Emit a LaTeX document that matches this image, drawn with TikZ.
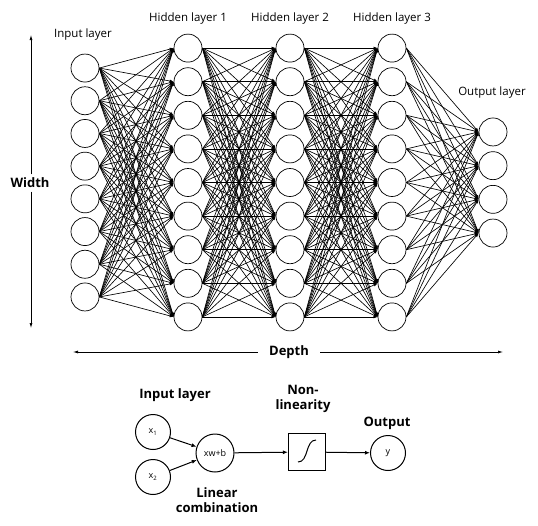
\documentclass[tikz,border=0pt]{standalone}
\usepackage{fontspec}
\setmainfont{Open Sans}
\usetikzlibrary{arrows.meta,positioning}

\begin{document}
\begin{tikzpicture}[
    x=1pt, y=1pt,
    neuron/.style={circle, draw, line width=0.7pt, minimum size=28pt, inner sep=0pt},
    unit/.style={circle, draw, line width=1pt, minimum size=35pt, inner sep=0pt, font=\fontsize{9}{10}\selectfont},
    link/.style={-{Latex[length=4pt,width=3pt]}, line width=0.65pt},
    flow/.style={-{Latex[length=5pt,width=4pt]}, line width=1pt},
    layerlabel/.style={font=\fontsize{11.5}{13}\selectfont},
    boldlabel/.style={font=\fontsize{13}{14.5}\selectfont\bfseries, align=center},
    dimarrow/.style={-{Latex[length=5pt,width=3pt]}, line width=0.7pt}
]
    \useasboundingbox (0,0) rectangle (538,-525);

    % layers of neurons
    \foreach \i in {1,...,8}
        \node[neuron] (in\i) at (85, {-182.5+(4.5-\i)*32.7}) {};
    \foreach \l/\xx in {1/188, 2/290, 3/392}
        \foreach \i in {1,...,9}
            \node[neuron] (h\l-\i) at (\xx, {-182.5+(5-\i)*33.6}) {};
    \foreach \i in {1,...,4}
        \node[neuron] (out\i) at (493, {-182.5+(2.5-\i)*33.7}) {};

    % weights
    \foreach \i in {1,...,8}
        \foreach \j in {1,...,9}
            \draw[link] (in\i.east) -- (h1-\j.west);
    \foreach \l/\m in {1/2, 2/3}
        \foreach \i in {1,...,9}
            \foreach \j in {1,...,9}
                \draw[link] (h\l-\i.east) -- (h\m-\j.west);
    \foreach \i in {1,...,9}
        \foreach \j in {1,...,4}
            \draw[link] (h3-\i.east) -- (out\j.west);

    % layer names
    \node[layerlabel] (inlabel) at (83,-35) {Input layer};
    \node[layerlabel] (h1label) at (188,-19) {Hidden layer 1};
    \node[layerlabel] (h2label) at (290,-19) {Hidden layer 2};
    \node[layerlabel] (h3label) at (392,-19) {Hidden layer 3};
    \node[layerlabel] (outlabel) at (492,-93) {Output layer};

    % width and depth
    \node[boldlabel] (width) at (30,-183) {Width};
    \coordinate (wtop) at (31,-35);
    \coordinate (wbot) at (31,-328);
    \draw[dimarrow] ([xshift=1pt]width.north) -- (wtop);
    \draw[dimarrow] ([xshift=1pt]width.south) -- (wbot);
    \node[boldlabel] (depth) at (289,-352) {Depth};
    \coordinate (dleft) at (73,-352);
    \coordinate (dright) at (503,-352);
    \draw[dimarrow] ([xshift=-8pt]depth.west) -- (dleft);
    \draw[dimarrow] ([xshift=8pt]depth.east) -- (dright);

    % single neuron
    \node[unit] (x1) at (153,-432) {x\textsubscript{1}};
    \node[unit] (x2) at (153,-477) {x\textsubscript{2}};
    \node[unit, minimum size=38pt] (lin) at (215,-453) {xw+b};
    \node[rectangle, draw, line width=1.2pt, minimum size=37pt] (act) at (307,-452) {};
    \draw[line width=1pt] ([shift={(-9,-10)}]act.center)
        .. controls ([shift={(2,-10)}]act.center) and ([shift={(-2,12)}]act.center)
        .. ([shift={(9,12)}]act.center);
    \node[unit] (yout) at (388,-453) {y};

    \draw[flow] (x1) -- (lin);
    \draw[flow] (x2) -- (lin);
    \draw[flow] (lin) -- (act);
    \draw[flow] (act) -- (yout);

    \node[boldlabel] (inname) at (175,-395) {Input layer};
    \node[boldlabel] (actname) at (303,-399) {Non-\\linearity};
    \node[boldlabel] (outname) at (387,-423) {Output};
    \node[boldlabel] (linname) at (217,-500) {Linear\\combination};
\end{tikzpicture}
\end{document}
